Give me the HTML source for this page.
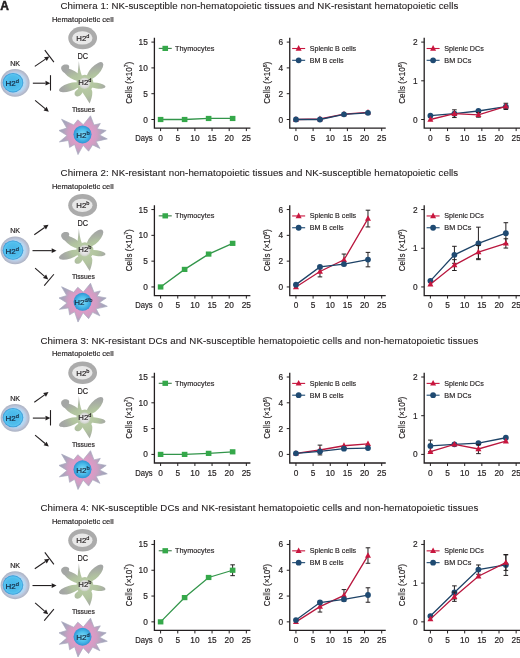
<!DOCTYPE html>
<html><head><meta charset="utf-8"><style>
html,body{margin:0;padding:0;background:#fff;}
svg{display:block;font-family:"Liberation Sans", sans-serif;will-change:transform;}
</style></head><body>
<svg width="520" height="658" viewBox="0 0 520 658">
<defs>
<filter id="blur1" x="-20%" y="-20%" width="140%" height="140%"><feGaussianBlur stdDeviation="0.55"/></filter>
<radialGradient id="nkblue" cx="0.5" cy="0.5" r="0.5">
 <stop offset="0" stop-color="#45b4e8"/>
 <stop offset="0.7" stop-color="#4fbdec"/>
 <stop offset="0.85" stop-color="#5ac4f0"/>
 <stop offset="1" stop-color="#2f90d2"/>
</radialGradient>
<radialGradient id="nkring" cx="0.5" cy="0.5" r="0.5">
 <stop offset="0.68" stop-color="#b4d8f2"/>
 <stop offset="0.82" stop-color="#bcc6dc"/>
 <stop offset="1" stop-color="#acb2c2"/>
</radialGradient>
<radialGradient id="hemat" cx="0.5" cy="0.5" r="0.5">
 <stop offset="0" stop-color="#f4f4f4"/>
 <stop offset="0.45" stop-color="#e8e8e8"/>
 <stop offset="0.7" stop-color="#bdbdbd"/>
 <stop offset="1" stop-color="#a9a9a9"/>
</radialGradient>
<radialGradient id="dcg" gradientUnits="userSpaceOnUse" cx="84.9" cy="83.3" r="23">
 <stop offset="0" stop-color="#bccfa8"/>
 <stop offset="0.55" stop-color="#b1c39f"/>
 <stop offset="0.8" stop-color="#a9b0a3"/>
 <stop offset="1" stop-color="#a4a6a5"/>
</radialGradient>
<radialGradient id="dcc" cx="0.5" cy="0.5" r="0.5">
 <stop offset="0" stop-color="#f2f2f2"/>
 <stop offset="0.7" stop-color="#dedede"/>
 <stop offset="1" stop-color="#c8cfbf"/>
</radialGradient>
<radialGradient id="star" gradientUnits="userSpaceOnUse" cx="82.5" cy="134.4" r="25">
 <stop offset="0.4" stop-color="#dd9bc7"/>
 <stop offset="0.58" stop-color="#cf9ec3"/>
 <stop offset="0.78" stop-color="#aca5bd"/>
 <stop offset="1" stop-color="#9aa1b6"/>
</radialGradient>
<radialGradient id="tblue" cx="0.5" cy="0.5" r="0.5">
 <stop offset="0" stop-color="#80dcf8"/>
 <stop offset="0.6" stop-color="#4abbea"/>
 <stop offset="1" stop-color="#2f94d4"/>
</radialGradient>
</defs>
<text x="0.2" y="10.1" font-size="12" font-weight="bold" fill="#231f20" stroke="#231f20" stroke-width="0.5">A</text>

<text x="259.4" y="8.90" font-size="9.7" text-anchor="middle" fill="#231f20" stroke="#231f20" stroke-width="0.12" textLength="398.0" lengthAdjust="spacing">Chimera 1: NK-susceptible non-hematopoietic tissues and NK-resistant hematopoietic cells</text>
<g>
<text x="15.10" y="65.70" font-size="7.1" text-anchor="middle" fill="#231f20" stroke="#231f20" stroke-width="0.18" >NK</text>
<ellipse cx="15.1" cy="82.90" rx="14.5" ry="13.9" fill="url(#nkring)"/>
<ellipse cx="13.0" cy="82.70" rx="10.3" ry="9.7" fill="url(#nkblue)"/>
<text x="5.60" y="86.20" font-size="8.0" fill="#16283f" stroke="#16283f" stroke-width="0.18" text-anchor="start">H2<tspan dy="-3" font-size="5.76">d</tspan></text>
<text x="51.90" y="21.50" font-size="8.0" text-anchor="start" fill="#231f20" stroke="#231f20" stroke-width="0.18" textLength="61.8" lengthAdjust="spacingAndGlyphs">Hematopoietic cell</text>
<ellipse cx="82.65" cy="37.90" rx="14.4" ry="11.3" fill="#ababab"/>
<ellipse cx="82.3" cy="37.90" rx="10.2" ry="6.7" fill="#e8e8e8" filter="url(#blur1)"/>
<text x="76.30" y="40.90" font-size="7.8" fill="#231f20" stroke="#231f20" stroke-width="0.18" text-anchor="start">H2<tspan dy="-3" font-size="5.62">d</tspan></text>
<text x="77.50" y="58.90" font-size="8.6" text-anchor="start" fill="#231f20" stroke="#231f20" stroke-width="0.18" textLength="10.6" lengthAdjust="spacingAndGlyphs">DC</text>
<g transform="translate(0,0.00)" fill="url(#dcg)"><ellipse cx="95.0" cy="70.9" rx="11.2" ry="4.6" transform="rotate(-47 95.0 70.9)"/><ellipse cx="96.8" cy="85.6" rx="8.8" ry="2.9" transform="rotate(8 96.8 85.6)"/><path d="M83,85 C88,86 92,88 92.3,92 C92.5,96 91,100 89.7,103.6 C87.5,100 84.5,95 81.5,91 Z"/><ellipse cx="69.5" cy="87.3" rx="11" ry="3.9" transform="rotate(-17 69.5 87.3)"/><ellipse cx="72.8" cy="74.8" rx="10.5" ry="4.0" transform="rotate(31 72.8 74.8)"/><path d="M61.2,69 C60.7,65.5 63.8,64 67,64.6 C69.2,65 69.8,67 68.8,68.6 C70.3,69.5 70.8,71.2 69.3,72.8 C66,73.8 62.2,72.8 61.2,69 Z"/><path d="M78.9,61.0 C79.3,66 80,71 82,76 L77.2,77.5 C77.8,72 78.5,66 78.9,61.0 Z"/><path d="M80.5,87 C78,89.5 75,90.5 74.6,93.2 C74.3,96 77,97 79.3,96 C81.5,95 82.5,92.5 84,90 Z"/><circle cx="84.9" cy="83.3" r="8.6"/></g>
<circle cx="84.6" cy="83.20" r="5.8" fill="url(#dcc)" filter="url(#blur1)"/>
<text x="78.30" y="84.80" font-size="7.8" fill="#231f20" stroke="#231f20" stroke-width="0.18" text-anchor="start">H2<tspan dy="-3" font-size="5.62">d</tspan></text>
<text x="71.90" y="111.90" font-size="7.1" text-anchor="start" fill="#231f20" stroke="#231f20" stroke-width="0.18" textLength="22.9" lengthAdjust="spacingAndGlyphs">Tissues</text>
<path transform="translate(0,0.00)" d="M90.50,115.80 L94.00,125.00 L100.30,123.50 L97.10,128.80 L106.20,130.50 L99.60,135.00 L107.30,138.90 L96.10,141.40 L99.90,148.40 L92.60,144.90 L88.60,151.20 L83.10,145.30 L78.00,154.60 L74.60,144.40 L69.60,147.40 L68.50,140.50 L59.40,141.90 L67.00,135.50 L59.00,130.50 L66.75,128.10 L61.60,119.30 L73.70,124.90 L77.80,119.80 L83.30,124.70 Z" fill="url(#star)" stroke="#a9a9bf" stroke-width="0.7" stroke-linejoin="round"/>
<circle cx="82.5" cy="134.40" r="9.0" fill="url(#tblue)"/>
<text x="76.20" y="137.80" font-size="8.0" fill="#16283f" stroke="#16283f" stroke-width="0.18" text-anchor="start">H2<tspan dy="-3" font-size="5.76">b</tspan></text>
<line x1="34.80" y1="66.40" x2="45.44" y2="59.11" stroke="#231f20" stroke-width="1.1"/>
<polygon points="49.40,56.40 46.80,61.09 44.08,57.13" fill="#231f20"/>
<line x1="44.80" y1="50.10" x2="53.90" y2="62.10" stroke="#231f20" stroke-width="1.1"/>
<line x1="32.85" y1="83.20" x2="45.50" y2="83.20" stroke="#231f20" stroke-width="1.1"/>
<polygon points="50.30,83.20 45.50,85.60 45.50,80.80" fill="#231f20"/>
<line x1="50.50" y1="75.20" x2="50.50" y2="90.60" stroke="#231f20" stroke-width="1.1"/>
<line x1="35.10" y1="100.30" x2="45.11" y2="108.63" stroke="#231f20" stroke-width="1.1"/>
<polygon points="48.80,111.70 43.58,110.47 46.65,106.78" fill="#231f20"/>
</g>
<path d="M154.40,37.75 V128.10 H250.40" fill="none" stroke="#231f20" stroke-width="1.3"/>
<line x1="151.40" y1="119.50" x2="154.40" y2="119.50" stroke="#231f20" stroke-width="1"/>
<text x="147.80" y="122.50" font-size="8.3" text-anchor="end" fill="#231f20" stroke="#231f20" stroke-width="0.18" >0</text>
<line x1="151.40" y1="93.70" x2="154.40" y2="93.70" stroke="#231f20" stroke-width="1"/>
<text x="147.80" y="96.70" font-size="8.3" text-anchor="end" fill="#231f20" stroke="#231f20" stroke-width="0.18" >5</text>
<line x1="151.40" y1="67.90" x2="154.40" y2="67.90" stroke="#231f20" stroke-width="1"/>
<text x="147.80" y="70.90" font-size="8.3" text-anchor="end" fill="#231f20" stroke="#231f20" stroke-width="0.18" >10</text>
<line x1="151.40" y1="42.10" x2="154.40" y2="42.10" stroke="#231f20" stroke-width="1"/>
<text x="147.80" y="45.10" font-size="8.3" text-anchor="end" fill="#231f20" stroke="#231f20" stroke-width="0.18" >15</text>
<line x1="160.60" y1="128.10" x2="160.60" y2="131.10" stroke="#231f20" stroke-width="1"/>
<text x="160.60" y="140.90" font-size="8.3" text-anchor="middle" fill="#231f20" stroke="#231f20" stroke-width="0.18" >0</text>
<line x1="177.75" y1="128.10" x2="177.75" y2="131.10" stroke="#231f20" stroke-width="1"/>
<text x="177.75" y="140.90" font-size="8.3" text-anchor="middle" fill="#231f20" stroke="#231f20" stroke-width="0.18" >5</text>
<line x1="194.90" y1="128.10" x2="194.90" y2="131.10" stroke="#231f20" stroke-width="1"/>
<text x="194.90" y="140.90" font-size="8.3" text-anchor="middle" fill="#231f20" stroke="#231f20" stroke-width="0.18" >10</text>
<line x1="212.05" y1="128.10" x2="212.05" y2="131.10" stroke="#231f20" stroke-width="1"/>
<text x="212.05" y="140.90" font-size="8.3" text-anchor="middle" fill="#231f20" stroke="#231f20" stroke-width="0.18" >15</text>
<line x1="229.20" y1="128.10" x2="229.20" y2="131.10" stroke="#231f20" stroke-width="1"/>
<text x="229.20" y="140.90" font-size="8.3" text-anchor="middle" fill="#231f20" stroke="#231f20" stroke-width="0.18" >20</text>
<line x1="246.35" y1="128.10" x2="246.35" y2="131.10" stroke="#231f20" stroke-width="1"/>
<text x="246.35" y="140.90" font-size="8.3" text-anchor="middle" fill="#231f20" stroke="#231f20" stroke-width="0.18" >25</text>
<text x="135.20" y="140.90" font-size="8.6" text-anchor="start" fill="#231f20" stroke="#231f20" stroke-width="0.18" textLength="17.4" lengthAdjust="spacingAndGlyphs">Days</text>
<text transform="translate(131.60,103.80) rotate(-90)" font-size="9.4" fill="#231f20" stroke="#231f20" stroke-width="0.18" textLength="42" lengthAdjust="spacingAndGlyphs">Cells (×10<tspan dy="-3.2" font-size="6">7</tspan><tspan dy="3.2">)</tspan></text>
<polyline points="160.60,119.50 184.61,119.50 208.62,118.47 232.63,118.47" fill="none" stroke="#32954a" stroke-width="1.3"/>
<rect x="157.80" y="116.90" width="5.6" height="5.2" fill="#35a84a"/>
<rect x="181.81" y="116.90" width="5.6" height="5.2" fill="#35a84a"/>
<rect x="205.82" y="115.87" width="5.6" height="5.2" fill="#35a84a"/>
<rect x="229.83" y="115.87" width="5.6" height="5.2" fill="#35a84a"/>
<line x1="158.75" y1="48.40" x2="171.75" y2="48.40" stroke="#3c7a48" stroke-width="1.1"/>
<rect x="162.45" y="45.80" width="5.6" height="5.2" fill="#35a84a"/>
<text x="175.10" y="50.80" font-size="8.0" text-anchor="start" fill="#231f20" stroke="#231f20" stroke-width="0.18" textLength="39.3" lengthAdjust="spacingAndGlyphs">Thymocytes</text>
<path d="M289.75,37.75 V128.10 H385.75" fill="none" stroke="#231f20" stroke-width="1.3"/>
<line x1="286.75" y1="119.50" x2="289.75" y2="119.50" stroke="#231f20" stroke-width="1"/>
<text x="283.15" y="122.50" font-size="8.3" text-anchor="end" fill="#231f20" stroke="#231f20" stroke-width="0.18" >0</text>
<line x1="286.75" y1="93.70" x2="289.75" y2="93.70" stroke="#231f20" stroke-width="1"/>
<text x="283.15" y="96.70" font-size="8.3" text-anchor="end" fill="#231f20" stroke="#231f20" stroke-width="0.18" >2</text>
<line x1="286.75" y1="67.90" x2="289.75" y2="67.90" stroke="#231f20" stroke-width="1"/>
<text x="283.15" y="70.90" font-size="8.3" text-anchor="end" fill="#231f20" stroke="#231f20" stroke-width="0.18" >4</text>
<line x1="286.75" y1="42.10" x2="289.75" y2="42.10" stroke="#231f20" stroke-width="1"/>
<text x="283.15" y="45.10" font-size="8.3" text-anchor="end" fill="#231f20" stroke="#231f20" stroke-width="0.18" >6</text>
<line x1="295.95" y1="128.10" x2="295.95" y2="131.10" stroke="#231f20" stroke-width="1"/>
<text x="295.95" y="140.90" font-size="8.3" text-anchor="middle" fill="#231f20" stroke="#231f20" stroke-width="0.18" >0</text>
<line x1="313.10" y1="128.10" x2="313.10" y2="131.10" stroke="#231f20" stroke-width="1"/>
<text x="313.10" y="140.90" font-size="8.3" text-anchor="middle" fill="#231f20" stroke="#231f20" stroke-width="0.18" >5</text>
<line x1="330.25" y1="128.10" x2="330.25" y2="131.10" stroke="#231f20" stroke-width="1"/>
<text x="330.25" y="140.90" font-size="8.3" text-anchor="middle" fill="#231f20" stroke="#231f20" stroke-width="0.18" >10</text>
<line x1="347.40" y1="128.10" x2="347.40" y2="131.10" stroke="#231f20" stroke-width="1"/>
<text x="347.40" y="140.90" font-size="8.3" text-anchor="middle" fill="#231f20" stroke="#231f20" stroke-width="0.18" >15</text>
<line x1="364.55" y1="128.10" x2="364.55" y2="131.10" stroke="#231f20" stroke-width="1"/>
<text x="364.55" y="140.90" font-size="8.3" text-anchor="middle" fill="#231f20" stroke="#231f20" stroke-width="0.18" >20</text>
<line x1="381.70" y1="128.10" x2="381.70" y2="131.10" stroke="#231f20" stroke-width="1"/>
<text x="381.70" y="140.90" font-size="8.3" text-anchor="middle" fill="#231f20" stroke="#231f20" stroke-width="0.18" >25</text>
<text transform="translate(270.10,103.80) rotate(-90)" font-size="9.4" fill="#231f20" stroke="#231f20" stroke-width="0.18" textLength="42" lengthAdjust="spacingAndGlyphs">Cells (×10<tspan dy="-3.2" font-size="6">6</tspan><tspan dy="3.2">)</tspan></text>
<polyline points="295.95,119.50 319.96,118.98 343.97,114.08 367.98,112.41" fill="none" stroke="#b9173e" stroke-width="1.3"/>
<polygon points="295.95,116.10 298.95,121.70 292.95,121.70" fill="#c8163e"/>
<polygon points="319.96,115.58 322.96,121.18 316.96,121.18" fill="#c8163e"/>
<polygon points="343.97,110.68 346.97,116.28 340.97,116.28" fill="#c8163e"/>
<polygon points="367.98,109.00 370.98,114.61 364.98,114.61" fill="#c8163e"/>
<polyline points="295.95,119.50 319.96,119.50 343.97,114.34 367.98,112.79" fill="none" stroke="#1d4266" stroke-width="1.3"/>
<circle cx="295.95" cy="119.50" r="2.9" fill="#1f4a72"/>
<circle cx="319.96" cy="119.50" r="2.9" fill="#1f4a72"/>
<circle cx="343.97" cy="114.34" r="2.9" fill="#1f4a72"/>
<circle cx="367.98" cy="112.79" r="2.9" fill="#1f4a72"/>
<line x1="292.15" y1="48.50" x2="305.15" y2="48.50" stroke="#c8163e" stroke-width="1.1"/>
<polygon points="298.65,45.10 301.65,50.70 295.65,50.70" fill="#c8163e"/>
<line x1="292.15" y1="60.30" x2="305.15" y2="60.30" stroke="#1f4a72" stroke-width="1.1"/>
<circle cx="298.65" cy="60.30" r="2.9" fill="#1f4a72"/>
<text x="309.85" y="50.90" font-size="8.0" text-anchor="start" fill="#231f20" stroke="#231f20" stroke-width="0.18" textLength="46.2" lengthAdjust="spacingAndGlyphs">Splenic B cells</text>
<text x="309.85" y="62.80" font-size="8.0" text-anchor="start" fill="#231f20" stroke="#231f20" stroke-width="0.18" textLength="33.7" lengthAdjust="spacingAndGlyphs">BM B cells</text>
<path d="M424.20,37.75 V128.10 H520.20" fill="none" stroke="#231f20" stroke-width="1.3"/>
<line x1="421.20" y1="119.50" x2="424.20" y2="119.50" stroke="#231f20" stroke-width="1"/>
<text x="417.60" y="122.50" font-size="8.3" text-anchor="end" fill="#231f20" stroke="#231f20" stroke-width="0.18" >0</text>
<line x1="421.20" y1="80.80" x2="424.20" y2="80.80" stroke="#231f20" stroke-width="1"/>
<text x="417.60" y="83.80" font-size="8.3" text-anchor="end" fill="#231f20" stroke="#231f20" stroke-width="0.18" >1</text>
<line x1="421.20" y1="42.10" x2="424.20" y2="42.10" stroke="#231f20" stroke-width="1"/>
<text x="417.60" y="45.10" font-size="8.3" text-anchor="end" fill="#231f20" stroke="#231f20" stroke-width="0.18" >2</text>
<line x1="430.40" y1="128.10" x2="430.40" y2="131.10" stroke="#231f20" stroke-width="1"/>
<text x="430.40" y="140.90" font-size="8.3" text-anchor="middle" fill="#231f20" stroke="#231f20" stroke-width="0.18" >0</text>
<line x1="447.55" y1="128.10" x2="447.55" y2="131.10" stroke="#231f20" stroke-width="1"/>
<text x="447.55" y="140.90" font-size="8.3" text-anchor="middle" fill="#231f20" stroke="#231f20" stroke-width="0.18" >5</text>
<line x1="464.70" y1="128.10" x2="464.70" y2="131.10" stroke="#231f20" stroke-width="1"/>
<text x="464.70" y="140.90" font-size="8.3" text-anchor="middle" fill="#231f20" stroke="#231f20" stroke-width="0.18" >10</text>
<line x1="481.85" y1="128.10" x2="481.85" y2="131.10" stroke="#231f20" stroke-width="1"/>
<text x="481.85" y="140.90" font-size="8.3" text-anchor="middle" fill="#231f20" stroke="#231f20" stroke-width="0.18" >15</text>
<line x1="499.00" y1="128.10" x2="499.00" y2="131.10" stroke="#231f20" stroke-width="1"/>
<text x="499.00" y="140.90" font-size="8.3" text-anchor="middle" fill="#231f20" stroke="#231f20" stroke-width="0.18" >20</text>
<line x1="516.15" y1="128.10" x2="516.15" y2="131.10" stroke="#231f20" stroke-width="1"/>
<text x="516.15" y="140.90" font-size="8.3" text-anchor="middle" fill="#231f20" stroke="#231f20" stroke-width="0.18" >25</text>
<text transform="translate(405.10,103.80) rotate(-90)" font-size="9.4" fill="#231f20" stroke="#231f20" stroke-width="0.18" textLength="42" lengthAdjust="spacingAndGlyphs">Cells (×10<tspan dy="-3.2" font-size="6">6</tspan><tspan dy="3.2">)</tspan></text>
<polyline points="430.40,115.63 454.41,113.69 478.42,110.99 505.86,106.73" fill="none" stroke="#1d4266" stroke-width="1.3"/>
<circle cx="430.40" cy="115.63" r="2.9" fill="#1f4a72"/>
<circle cx="454.41" cy="113.69" r="2.9" fill="#1f4a72"/>
<circle cx="478.42" cy="110.99" r="2.9" fill="#1f4a72"/>
<circle cx="505.86" cy="106.73" r="2.9" fill="#1f4a72"/>
<polyline points="430.40,119.50 454.41,113.69 478.42,114.86 505.86,106.34" fill="none" stroke="#b9173e" stroke-width="1.3"/>
<path d="M454.41,109.82 V117.56 M452.11,109.82 H456.71 M452.11,117.56 H456.71" stroke="#231f20" stroke-width="1" fill="none"/>
<path d="M478.42,112.53 V117.18 M476.12,112.53 H480.72 M476.12,117.18 H480.72" stroke="#231f20" stroke-width="1" fill="none"/>
<path d="M505.86,103.25 V109.44 M503.56,103.25 H508.16 M503.56,109.44 H508.16" stroke="#231f20" stroke-width="1" fill="none"/>
<polygon points="430.40,116.10 433.40,121.70 427.40,121.70" fill="#c8163e"/>
<polygon points="454.41,110.29 457.41,115.89 451.41,115.89" fill="#c8163e"/>
<polygon points="478.42,111.46 481.42,117.06 475.42,117.06" fill="#c8163e"/>
<polygon points="505.86,102.94 508.86,108.54 502.86,108.54" fill="#c8163e"/>
<line x1="426.60" y1="48.50" x2="439.60" y2="48.50" stroke="#c8163e" stroke-width="1.1"/>
<polygon points="433.10,45.10 436.10,50.70 430.10,50.70" fill="#c8163e"/>
<line x1="426.60" y1="60.30" x2="439.60" y2="60.30" stroke="#1f4a72" stroke-width="1.1"/>
<circle cx="433.10" cy="60.30" r="2.9" fill="#1f4a72"/>
<text x="444.30" y="50.90" font-size="8.0" text-anchor="start" fill="#231f20" stroke="#231f20" stroke-width="0.18" textLength="39.5" lengthAdjust="spacingAndGlyphs">Splenic DCs</text>
<text x="444.30" y="62.80" font-size="8.0" text-anchor="start" fill="#231f20" stroke="#231f20" stroke-width="0.18" textLength="27" lengthAdjust="spacingAndGlyphs">BM DCs</text>
<text x="259.4" y="176.35" font-size="9.7" text-anchor="middle" fill="#231f20" stroke="#231f20" stroke-width="0.12" textLength="397.6" lengthAdjust="spacing">Chimera 2: NK-resistant non-hematopoietic tissues and NK-susceptible hematopoietic cells</text>
<g>
<text x="15.10" y="233.15" font-size="7.1" text-anchor="middle" fill="#231f20" stroke="#231f20" stroke-width="0.18" >NK</text>
<ellipse cx="15.1" cy="250.35" rx="14.5" ry="13.9" fill="url(#nkring)"/>
<ellipse cx="13.0" cy="250.15" rx="10.3" ry="9.7" fill="url(#nkblue)"/>
<text x="5.60" y="253.65" font-size="8.0" fill="#16283f" stroke="#16283f" stroke-width="0.18" text-anchor="start">H2<tspan dy="-3" font-size="5.76">d</tspan></text>
<text x="51.90" y="188.95" font-size="8.0" text-anchor="start" fill="#231f20" stroke="#231f20" stroke-width="0.18" textLength="61.8" lengthAdjust="spacingAndGlyphs">Hematopoietic cell</text>
<ellipse cx="82.65" cy="205.35" rx="14.4" ry="11.3" fill="#ababab"/>
<ellipse cx="82.3" cy="205.35" rx="10.2" ry="6.7" fill="#e8e8e8" filter="url(#blur1)"/>
<text x="76.30" y="208.35" font-size="7.8" fill="#231f20" stroke="#231f20" stroke-width="0.18" text-anchor="start">H2<tspan dy="-3" font-size="5.62">b</tspan></text>
<text x="77.50" y="226.35" font-size="8.6" text-anchor="start" fill="#231f20" stroke="#231f20" stroke-width="0.18" textLength="10.6" lengthAdjust="spacingAndGlyphs">DC</text>
<g transform="translate(0,167.45)" fill="url(#dcg)"><ellipse cx="95.0" cy="70.9" rx="11.2" ry="4.6" transform="rotate(-47 95.0 70.9)"/><ellipse cx="96.8" cy="85.6" rx="8.8" ry="2.9" transform="rotate(8 96.8 85.6)"/><path d="M83,85 C88,86 92,88 92.3,92 C92.5,96 91,100 89.7,103.6 C87.5,100 84.5,95 81.5,91 Z"/><ellipse cx="69.5" cy="87.3" rx="11" ry="3.9" transform="rotate(-17 69.5 87.3)"/><ellipse cx="72.8" cy="74.8" rx="10.5" ry="4.0" transform="rotate(31 72.8 74.8)"/><path d="M61.2,69 C60.7,65.5 63.8,64 67,64.6 C69.2,65 69.8,67 68.8,68.6 C70.3,69.5 70.8,71.2 69.3,72.8 C66,73.8 62.2,72.8 61.2,69 Z"/><path d="M78.9,61.0 C79.3,66 80,71 82,76 L77.2,77.5 C77.8,72 78.5,66 78.9,61.0 Z"/><path d="M80.5,87 C78,89.5 75,90.5 74.6,93.2 C74.3,96 77,97 79.3,96 C81.5,95 82.5,92.5 84,90 Z"/><circle cx="84.9" cy="83.3" r="8.6"/></g>
<circle cx="84.6" cy="250.65" r="5.8" fill="url(#dcc)" filter="url(#blur1)"/>
<text x="78.30" y="252.25" font-size="7.8" fill="#231f20" stroke="#231f20" stroke-width="0.18" text-anchor="start">H2<tspan dy="-3" font-size="5.62">b</tspan></text>
<text x="71.90" y="279.35" font-size="7.1" text-anchor="start" fill="#231f20" stroke="#231f20" stroke-width="0.18" textLength="22.9" lengthAdjust="spacingAndGlyphs">Tissues</text>
<path transform="translate(0,167.45)" d="M90.50,115.80 L94.00,125.00 L100.30,123.50 L97.10,128.80 L106.20,130.50 L99.60,135.00 L107.30,138.90 L96.10,141.40 L99.90,148.40 L92.60,144.90 L88.60,151.20 L83.10,145.30 L78.00,154.60 L74.60,144.40 L69.60,147.40 L68.50,140.50 L59.40,141.90 L67.00,135.50 L59.00,130.50 L66.75,128.10 L61.60,119.30 L73.70,124.90 L77.80,119.80 L83.30,124.70 Z" fill="url(#star)" stroke="#a9a9bf" stroke-width="0.7" stroke-linejoin="round"/>
<circle cx="82.5" cy="301.85" r="9.0" fill="url(#tblue)"/>
<text x="74.20" y="305.25" font-size="8.0" fill="#16283f" stroke="#16283f" stroke-width="0.18" text-anchor="start">H2<tspan dy="-3" font-size="5.76">d/b</tspan></text>
<line x1="34.30" y1="234.75" x2="44.59" y2="227.43" stroke="#231f20" stroke-width="1.1"/>
<polygon points="48.50,224.65 45.98,229.39 43.20,225.48" fill="#231f20"/>
<line x1="32.50" y1="250.65" x2="51.70" y2="250.65" stroke="#231f20" stroke-width="1.1"/>
<polygon points="56.50,250.65 51.70,253.05 51.70,248.25" fill="#231f20"/>
<line x1="35.10" y1="268.05" x2="44.58" y2="276.30" stroke="#231f20" stroke-width="1.1"/>
<polygon points="48.20,279.45 43.00,278.11 46.15,274.49" fill="#231f20"/>
<line x1="44.25" y1="285.65" x2="53.90" y2="274.25" stroke="#231f20" stroke-width="1.1"/>
</g>
<path d="M154.40,205.20 V295.55 H250.40" fill="none" stroke="#231f20" stroke-width="1.3"/>
<line x1="151.40" y1="286.95" x2="154.40" y2="286.95" stroke="#231f20" stroke-width="1"/>
<text x="147.80" y="289.95" font-size="8.3" text-anchor="end" fill="#231f20" stroke="#231f20" stroke-width="0.18" >0</text>
<line x1="151.40" y1="261.15" x2="154.40" y2="261.15" stroke="#231f20" stroke-width="1"/>
<text x="147.80" y="264.15" font-size="8.3" text-anchor="end" fill="#231f20" stroke="#231f20" stroke-width="0.18" >5</text>
<line x1="151.40" y1="235.35" x2="154.40" y2="235.35" stroke="#231f20" stroke-width="1"/>
<text x="147.80" y="238.35" font-size="8.3" text-anchor="end" fill="#231f20" stroke="#231f20" stroke-width="0.18" >10</text>
<line x1="151.40" y1="209.55" x2="154.40" y2="209.55" stroke="#231f20" stroke-width="1"/>
<text x="147.80" y="212.55" font-size="8.3" text-anchor="end" fill="#231f20" stroke="#231f20" stroke-width="0.18" >15</text>
<line x1="160.60" y1="295.55" x2="160.60" y2="298.55" stroke="#231f20" stroke-width="1"/>
<text x="160.60" y="308.35" font-size="8.3" text-anchor="middle" fill="#231f20" stroke="#231f20" stroke-width="0.18" >0</text>
<line x1="177.75" y1="295.55" x2="177.75" y2="298.55" stroke="#231f20" stroke-width="1"/>
<text x="177.75" y="308.35" font-size="8.3" text-anchor="middle" fill="#231f20" stroke="#231f20" stroke-width="0.18" >5</text>
<line x1="194.90" y1="295.55" x2="194.90" y2="298.55" stroke="#231f20" stroke-width="1"/>
<text x="194.90" y="308.35" font-size="8.3" text-anchor="middle" fill="#231f20" stroke="#231f20" stroke-width="0.18" >10</text>
<line x1="212.05" y1="295.55" x2="212.05" y2="298.55" stroke="#231f20" stroke-width="1"/>
<text x="212.05" y="308.35" font-size="8.3" text-anchor="middle" fill="#231f20" stroke="#231f20" stroke-width="0.18" >15</text>
<line x1="229.20" y1="295.55" x2="229.20" y2="298.55" stroke="#231f20" stroke-width="1"/>
<text x="229.20" y="308.35" font-size="8.3" text-anchor="middle" fill="#231f20" stroke="#231f20" stroke-width="0.18" >20</text>
<line x1="246.35" y1="295.55" x2="246.35" y2="298.55" stroke="#231f20" stroke-width="1"/>
<text x="246.35" y="308.35" font-size="8.3" text-anchor="middle" fill="#231f20" stroke="#231f20" stroke-width="0.18" >25</text>
<text x="135.20" y="308.35" font-size="8.6" text-anchor="start" fill="#231f20" stroke="#231f20" stroke-width="0.18" textLength="17.4" lengthAdjust="spacingAndGlyphs">Days</text>
<text transform="translate(131.60,271.25) rotate(-90)" font-size="9.4" fill="#231f20" stroke="#231f20" stroke-width="0.18" textLength="42" lengthAdjust="spacingAndGlyphs">Cells (×10<tspan dy="-3.2" font-size="6">7</tspan><tspan dy="3.2">)</tspan></text>
<polyline points="160.60,286.95 184.61,269.41 208.62,254.08 232.63,243.35" fill="none" stroke="#32954a" stroke-width="1.3"/>
<rect x="157.80" y="284.35" width="5.6" height="5.2" fill="#35a84a"/>
<rect x="181.81" y="266.81" width="5.6" height="5.2" fill="#35a84a"/>
<rect x="205.82" y="251.48" width="5.6" height="5.2" fill="#35a84a"/>
<rect x="229.83" y="240.75" width="5.6" height="5.2" fill="#35a84a"/>
<line x1="158.75" y1="215.85" x2="171.75" y2="215.85" stroke="#3c7a48" stroke-width="1.1"/>
<rect x="162.45" y="213.25" width="5.6" height="5.2" fill="#35a84a"/>
<text x="175.10" y="218.25" font-size="8.0" text-anchor="start" fill="#231f20" stroke="#231f20" stroke-width="0.18" textLength="39.3" lengthAdjust="spacingAndGlyphs">Thymocytes</text>
<path d="M289.75,205.20 V295.55 H385.75" fill="none" stroke="#231f20" stroke-width="1.3"/>
<line x1="286.75" y1="286.95" x2="289.75" y2="286.95" stroke="#231f20" stroke-width="1"/>
<text x="283.15" y="289.95" font-size="8.3" text-anchor="end" fill="#231f20" stroke="#231f20" stroke-width="0.18" >0</text>
<line x1="286.75" y1="261.15" x2="289.75" y2="261.15" stroke="#231f20" stroke-width="1"/>
<text x="283.15" y="264.15" font-size="8.3" text-anchor="end" fill="#231f20" stroke="#231f20" stroke-width="0.18" >2</text>
<line x1="286.75" y1="235.35" x2="289.75" y2="235.35" stroke="#231f20" stroke-width="1"/>
<text x="283.15" y="238.35" font-size="8.3" text-anchor="end" fill="#231f20" stroke="#231f20" stroke-width="0.18" >4</text>
<line x1="286.75" y1="209.55" x2="289.75" y2="209.55" stroke="#231f20" stroke-width="1"/>
<text x="283.15" y="212.55" font-size="8.3" text-anchor="end" fill="#231f20" stroke="#231f20" stroke-width="0.18" >6</text>
<line x1="295.95" y1="295.55" x2="295.95" y2="298.55" stroke="#231f20" stroke-width="1"/>
<text x="295.95" y="308.35" font-size="8.3" text-anchor="middle" fill="#231f20" stroke="#231f20" stroke-width="0.18" >0</text>
<line x1="313.10" y1="295.55" x2="313.10" y2="298.55" stroke="#231f20" stroke-width="1"/>
<text x="313.10" y="308.35" font-size="8.3" text-anchor="middle" fill="#231f20" stroke="#231f20" stroke-width="0.18" >5</text>
<line x1="330.25" y1="295.55" x2="330.25" y2="298.55" stroke="#231f20" stroke-width="1"/>
<text x="330.25" y="308.35" font-size="8.3" text-anchor="middle" fill="#231f20" stroke="#231f20" stroke-width="0.18" >10</text>
<line x1="347.40" y1="295.55" x2="347.40" y2="298.55" stroke="#231f20" stroke-width="1"/>
<text x="347.40" y="308.35" font-size="8.3" text-anchor="middle" fill="#231f20" stroke="#231f20" stroke-width="0.18" >15</text>
<line x1="364.55" y1="295.55" x2="364.55" y2="298.55" stroke="#231f20" stroke-width="1"/>
<text x="364.55" y="308.35" font-size="8.3" text-anchor="middle" fill="#231f20" stroke="#231f20" stroke-width="0.18" >20</text>
<line x1="381.70" y1="295.55" x2="381.70" y2="298.55" stroke="#231f20" stroke-width="1"/>
<text x="381.70" y="308.35" font-size="8.3" text-anchor="middle" fill="#231f20" stroke="#231f20" stroke-width="0.18" >25</text>
<text transform="translate(270.10,271.25) rotate(-90)" font-size="9.4" fill="#231f20" stroke="#231f20" stroke-width="0.18" textLength="42" lengthAdjust="spacingAndGlyphs">Cells (×10<tspan dy="-3.2" font-size="6">6</tspan><tspan dy="3.2">)</tspan></text>
<polyline points="295.95,286.95 319.96,271.47 343.97,259.86 367.98,218.58" fill="none" stroke="#b9173e" stroke-width="1.3"/>
<path d="M319.96,266.05 V276.89 M317.66,266.05 H322.26 M317.66,276.89 H322.26" stroke="#231f20" stroke-width="1" fill="none"/>
<path d="M343.97,254.06 V265.67 M341.67,254.06 H346.27 M341.67,265.67 H346.27" stroke="#231f20" stroke-width="1" fill="none"/>
<path d="M367.98,210.19 V226.96 M365.68,210.19 H370.28 M365.68,226.96 H370.28" stroke="#231f20" stroke-width="1" fill="none"/>
<polygon points="295.95,283.55 298.95,289.15 292.95,289.15" fill="#c8163e"/>
<polygon points="319.96,268.07 322.96,273.67 316.96,273.67" fill="#c8163e"/>
<polygon points="343.97,256.46 346.97,262.06 340.97,262.06" fill="#c8163e"/>
<polygon points="367.98,215.18 370.98,220.78 364.98,220.78" fill="#c8163e"/>
<polyline points="295.95,284.63 319.96,266.95 343.97,264.12 367.98,259.60" fill="none" stroke="#1d4266" stroke-width="1.3"/>
<path d="M367.98,252.38 V266.83 M365.68,252.38 H370.28 M365.68,266.83 H370.28" stroke="#231f20" stroke-width="1" fill="none"/>
<circle cx="295.95" cy="284.63" r="2.9" fill="#1f4a72"/>
<circle cx="319.96" cy="266.95" r="2.9" fill="#1f4a72"/>
<circle cx="343.97" cy="264.12" r="2.9" fill="#1f4a72"/>
<circle cx="367.98" cy="259.60" r="2.9" fill="#1f4a72"/>
<line x1="292.15" y1="215.95" x2="305.15" y2="215.95" stroke="#c8163e" stroke-width="1.1"/>
<polygon points="298.65,212.55 301.65,218.15 295.65,218.15" fill="#c8163e"/>
<line x1="292.15" y1="227.75" x2="305.15" y2="227.75" stroke="#1f4a72" stroke-width="1.1"/>
<circle cx="298.65" cy="227.75" r="2.9" fill="#1f4a72"/>
<text x="309.85" y="218.35" font-size="8.0" text-anchor="start" fill="#231f20" stroke="#231f20" stroke-width="0.18" textLength="46.2" lengthAdjust="spacingAndGlyphs">Splenic B cells</text>
<text x="309.85" y="230.25" font-size="8.0" text-anchor="start" fill="#231f20" stroke="#231f20" stroke-width="0.18" textLength="33.7" lengthAdjust="spacingAndGlyphs">BM B cells</text>
<path d="M424.20,205.20 V295.55 H520.20" fill="none" stroke="#231f20" stroke-width="1.3"/>
<line x1="421.20" y1="286.95" x2="424.20" y2="286.95" stroke="#231f20" stroke-width="1"/>
<text x="417.60" y="289.95" font-size="8.3" text-anchor="end" fill="#231f20" stroke="#231f20" stroke-width="0.18" >0</text>
<line x1="421.20" y1="248.25" x2="424.20" y2="248.25" stroke="#231f20" stroke-width="1"/>
<text x="417.60" y="251.25" font-size="8.3" text-anchor="end" fill="#231f20" stroke="#231f20" stroke-width="0.18" >1</text>
<line x1="421.20" y1="209.55" x2="424.20" y2="209.55" stroke="#231f20" stroke-width="1"/>
<text x="417.60" y="212.55" font-size="8.3" text-anchor="end" fill="#231f20" stroke="#231f20" stroke-width="0.18" >2</text>
<line x1="430.40" y1="295.55" x2="430.40" y2="298.55" stroke="#231f20" stroke-width="1"/>
<text x="430.40" y="308.35" font-size="8.3" text-anchor="middle" fill="#231f20" stroke="#231f20" stroke-width="0.18" >0</text>
<line x1="447.55" y1="295.55" x2="447.55" y2="298.55" stroke="#231f20" stroke-width="1"/>
<text x="447.55" y="308.35" font-size="8.3" text-anchor="middle" fill="#231f20" stroke="#231f20" stroke-width="0.18" >5</text>
<line x1="464.70" y1="295.55" x2="464.70" y2="298.55" stroke="#231f20" stroke-width="1"/>
<text x="464.70" y="308.35" font-size="8.3" text-anchor="middle" fill="#231f20" stroke="#231f20" stroke-width="0.18" >10</text>
<line x1="481.85" y1="295.55" x2="481.85" y2="298.55" stroke="#231f20" stroke-width="1"/>
<text x="481.85" y="308.35" font-size="8.3" text-anchor="middle" fill="#231f20" stroke="#231f20" stroke-width="0.18" >15</text>
<line x1="499.00" y1="295.55" x2="499.00" y2="298.55" stroke="#231f20" stroke-width="1"/>
<text x="499.00" y="308.35" font-size="8.3" text-anchor="middle" fill="#231f20" stroke="#231f20" stroke-width="0.18" >20</text>
<line x1="516.15" y1="295.55" x2="516.15" y2="298.55" stroke="#231f20" stroke-width="1"/>
<text x="516.15" y="308.35" font-size="8.3" text-anchor="middle" fill="#231f20" stroke="#231f20" stroke-width="0.18" >25</text>
<text transform="translate(405.10,271.25) rotate(-90)" font-size="9.4" fill="#231f20" stroke="#231f20" stroke-width="0.18" textLength="42" lengthAdjust="spacingAndGlyphs">Cells (×10<tspan dy="-3.2" font-size="6">6</tspan><tspan dy="3.2">)</tspan></text>
<polyline points="430.40,280.87 454.41,254.83 478.42,243.41 505.86,233.16" fill="none" stroke="#1d4266" stroke-width="1.3"/>
<path d="M454.41,246.31 V263.34 M452.11,246.31 H456.71 M452.11,263.34 H456.71" stroke="#231f20" stroke-width="1" fill="none"/>
<path d="M478.42,227.16 V259.67 M476.12,227.16 H480.72 M476.12,259.67 H480.72" stroke="#231f20" stroke-width="1" fill="none"/>
<path d="M505.86,222.71 V243.61 M503.56,222.71 H508.16 M503.56,243.61 H508.16" stroke="#231f20" stroke-width="1" fill="none"/>
<circle cx="430.40" cy="280.87" r="2.9" fill="#1f4a72"/>
<circle cx="454.41" cy="254.83" r="2.9" fill="#1f4a72"/>
<circle cx="478.42" cy="243.41" r="2.9" fill="#1f4a72"/>
<circle cx="505.86" cy="233.16" r="2.9" fill="#1f4a72"/>
<polyline points="430.40,284.24 454.41,265.08 478.42,252.12 505.86,243.41" fill="none" stroke="#b9173e" stroke-width="1.3"/>
<path d="M454.41,259.67 V270.50 M452.11,259.67 H456.71 M452.11,270.50 H456.71" stroke="#231f20" stroke-width="1" fill="none"/>
<path d="M478.42,245.54 V258.70 M476.12,245.54 H480.72 M476.12,258.70 H480.72" stroke="#231f20" stroke-width="1" fill="none"/>
<path d="M505.86,238.77 V248.06 M503.56,238.77 H508.16 M503.56,248.06 H508.16" stroke="#231f20" stroke-width="1" fill="none"/>
<polygon points="430.40,280.84 433.40,286.44 427.40,286.44" fill="#c8163e"/>
<polygon points="454.41,261.68 457.41,267.28 451.41,267.28" fill="#c8163e"/>
<polygon points="478.42,248.72 481.42,254.32 475.42,254.32" fill="#c8163e"/>
<polygon points="505.86,240.01 508.86,245.61 502.86,245.61" fill="#c8163e"/>
<line x1="426.60" y1="215.95" x2="439.60" y2="215.95" stroke="#c8163e" stroke-width="1.1"/>
<polygon points="433.10,212.55 436.10,218.15 430.10,218.15" fill="#c8163e"/>
<line x1="426.60" y1="227.75" x2="439.60" y2="227.75" stroke="#1f4a72" stroke-width="1.1"/>
<circle cx="433.10" cy="227.75" r="2.9" fill="#1f4a72"/>
<text x="444.30" y="218.35" font-size="8.0" text-anchor="start" fill="#231f20" stroke="#231f20" stroke-width="0.18" textLength="39.5" lengthAdjust="spacingAndGlyphs">Splenic DCs</text>
<text x="444.30" y="230.25" font-size="8.0" text-anchor="start" fill="#231f20" stroke="#231f20" stroke-width="0.18" textLength="27" lengthAdjust="spacingAndGlyphs">BM DCs</text>
<text x="259.4" y="343.80" font-size="9.7" text-anchor="middle" fill="#231f20" stroke="#231f20" stroke-width="0.12" textLength="437.7" lengthAdjust="spacing">Chimera 3: NK-resistant DCs and NK-susceptible hematopoietic cells and non-hematopoietic tissues</text>
<g>
<text x="15.10" y="400.60" font-size="7.1" text-anchor="middle" fill="#231f20" stroke="#231f20" stroke-width="0.18" >NK</text>
<ellipse cx="15.1" cy="417.80" rx="14.5" ry="13.9" fill="url(#nkring)"/>
<ellipse cx="13.0" cy="417.60" rx="10.3" ry="9.7" fill="url(#nkblue)"/>
<text x="5.60" y="421.10" font-size="8.0" fill="#16283f" stroke="#16283f" stroke-width="0.18" text-anchor="start">H2<tspan dy="-3" font-size="5.76">d</tspan></text>
<text x="51.90" y="356.40" font-size="8.0" text-anchor="start" fill="#231f20" stroke="#231f20" stroke-width="0.18" textLength="61.8" lengthAdjust="spacingAndGlyphs">Hematopoietic cell</text>
<ellipse cx="82.65" cy="372.80" rx="14.4" ry="11.3" fill="#ababab"/>
<ellipse cx="82.3" cy="372.80" rx="10.2" ry="6.7" fill="#e8e8e8" filter="url(#blur1)"/>
<text x="76.30" y="375.80" font-size="7.8" fill="#231f20" stroke="#231f20" stroke-width="0.18" text-anchor="start">H2<tspan dy="-3" font-size="5.62">b</tspan></text>
<text x="77.50" y="393.80" font-size="8.6" text-anchor="start" fill="#231f20" stroke="#231f20" stroke-width="0.18" textLength="10.6" lengthAdjust="spacingAndGlyphs">DC</text>
<g transform="translate(0,334.90)" fill="url(#dcg)"><ellipse cx="95.0" cy="70.9" rx="11.2" ry="4.6" transform="rotate(-47 95.0 70.9)"/><ellipse cx="96.8" cy="85.6" rx="8.8" ry="2.9" transform="rotate(8 96.8 85.6)"/><path d="M83,85 C88,86 92,88 92.3,92 C92.5,96 91,100 89.7,103.6 C87.5,100 84.5,95 81.5,91 Z"/><ellipse cx="69.5" cy="87.3" rx="11" ry="3.9" transform="rotate(-17 69.5 87.3)"/><ellipse cx="72.8" cy="74.8" rx="10.5" ry="4.0" transform="rotate(31 72.8 74.8)"/><path d="M61.2,69 C60.7,65.5 63.8,64 67,64.6 C69.2,65 69.8,67 68.8,68.6 C70.3,69.5 70.8,71.2 69.3,72.8 C66,73.8 62.2,72.8 61.2,69 Z"/><path d="M78.9,61.0 C79.3,66 80,71 82,76 L77.2,77.5 C77.8,72 78.5,66 78.9,61.0 Z"/><path d="M80.5,87 C78,89.5 75,90.5 74.6,93.2 C74.3,96 77,97 79.3,96 C81.5,95 82.5,92.5 84,90 Z"/><circle cx="84.9" cy="83.3" r="8.6"/></g>
<circle cx="84.6" cy="418.10" r="5.8" fill="url(#dcc)" filter="url(#blur1)"/>
<text x="78.30" y="419.70" font-size="7.8" fill="#231f20" stroke="#231f20" stroke-width="0.18" text-anchor="start">H2<tspan dy="-3" font-size="5.62">d</tspan></text>
<text x="71.90" y="446.80" font-size="7.1" text-anchor="start" fill="#231f20" stroke="#231f20" stroke-width="0.18" textLength="22.9" lengthAdjust="spacingAndGlyphs">Tissues</text>
<path transform="translate(0,334.90)" d="M90.50,115.80 L94.00,125.00 L100.30,123.50 L97.10,128.80 L106.20,130.50 L99.60,135.00 L107.30,138.90 L96.10,141.40 L99.90,148.40 L92.60,144.90 L88.60,151.20 L83.10,145.30 L78.00,154.60 L74.60,144.40 L69.60,147.40 L68.50,140.50 L59.40,141.90 L67.00,135.50 L59.00,130.50 L66.75,128.10 L61.60,119.30 L73.70,124.90 L77.80,119.80 L83.30,124.70 Z" fill="url(#star)" stroke="#a9a9bf" stroke-width="0.7" stroke-linejoin="round"/>
<circle cx="82.5" cy="469.30" r="9.0" fill="url(#tblue)"/>
<text x="76.20" y="472.70" font-size="8.0" fill="#16283f" stroke="#16283f" stroke-width="0.18" text-anchor="start">H2<tspan dy="-3" font-size="5.76">b</tspan></text>
<line x1="34.30" y1="402.20" x2="44.59" y2="394.88" stroke="#231f20" stroke-width="1.1"/>
<polygon points="48.50,392.10 45.98,396.84 43.20,392.93" fill="#231f20"/>
<line x1="32.85" y1="418.10" x2="45.50" y2="418.10" stroke="#231f20" stroke-width="1.1"/>
<polygon points="50.30,418.10 45.50,420.50 45.50,415.70" fill="#231f20"/>
<line x1="50.50" y1="410.10" x2="50.50" y2="425.50" stroke="#231f20" stroke-width="1.1"/>
<line x1="35.10" y1="435.20" x2="45.11" y2="443.53" stroke="#231f20" stroke-width="1.1"/>
<polygon points="48.80,446.60 43.58,445.37 46.65,441.68" fill="#231f20"/>
</g>
<path d="M154.40,372.65 V463.00 H250.40" fill="none" stroke="#231f20" stroke-width="1.3"/>
<line x1="151.40" y1="454.40" x2="154.40" y2="454.40" stroke="#231f20" stroke-width="1"/>
<text x="147.80" y="457.40" font-size="8.3" text-anchor="end" fill="#231f20" stroke="#231f20" stroke-width="0.18" >0</text>
<line x1="151.40" y1="428.60" x2="154.40" y2="428.60" stroke="#231f20" stroke-width="1"/>
<text x="147.80" y="431.60" font-size="8.3" text-anchor="end" fill="#231f20" stroke="#231f20" stroke-width="0.18" >5</text>
<line x1="151.40" y1="402.80" x2="154.40" y2="402.80" stroke="#231f20" stroke-width="1"/>
<text x="147.80" y="405.80" font-size="8.3" text-anchor="end" fill="#231f20" stroke="#231f20" stroke-width="0.18" >10</text>
<line x1="151.40" y1="377.00" x2="154.40" y2="377.00" stroke="#231f20" stroke-width="1"/>
<text x="147.80" y="380.00" font-size="8.3" text-anchor="end" fill="#231f20" stroke="#231f20" stroke-width="0.18" >15</text>
<line x1="160.60" y1="463.00" x2="160.60" y2="466.00" stroke="#231f20" stroke-width="1"/>
<text x="160.60" y="475.80" font-size="8.3" text-anchor="middle" fill="#231f20" stroke="#231f20" stroke-width="0.18" >0</text>
<line x1="177.75" y1="463.00" x2="177.75" y2="466.00" stroke="#231f20" stroke-width="1"/>
<text x="177.75" y="475.80" font-size="8.3" text-anchor="middle" fill="#231f20" stroke="#231f20" stroke-width="0.18" >5</text>
<line x1="194.90" y1="463.00" x2="194.90" y2="466.00" stroke="#231f20" stroke-width="1"/>
<text x="194.90" y="475.80" font-size="8.3" text-anchor="middle" fill="#231f20" stroke="#231f20" stroke-width="0.18" >10</text>
<line x1="212.05" y1="463.00" x2="212.05" y2="466.00" stroke="#231f20" stroke-width="1"/>
<text x="212.05" y="475.80" font-size="8.3" text-anchor="middle" fill="#231f20" stroke="#231f20" stroke-width="0.18" >15</text>
<line x1="229.20" y1="463.00" x2="229.20" y2="466.00" stroke="#231f20" stroke-width="1"/>
<text x="229.20" y="475.80" font-size="8.3" text-anchor="middle" fill="#231f20" stroke="#231f20" stroke-width="0.18" >20</text>
<line x1="246.35" y1="463.00" x2="246.35" y2="466.00" stroke="#231f20" stroke-width="1"/>
<text x="246.35" y="475.80" font-size="8.3" text-anchor="middle" fill="#231f20" stroke="#231f20" stroke-width="0.18" >25</text>
<text x="135.20" y="475.80" font-size="8.6" text-anchor="start" fill="#231f20" stroke="#231f20" stroke-width="0.18" textLength="17.4" lengthAdjust="spacingAndGlyphs">Days</text>
<text transform="translate(131.60,438.70) rotate(-90)" font-size="9.4" fill="#231f20" stroke="#231f20" stroke-width="0.18" textLength="42" lengthAdjust="spacingAndGlyphs">Cells (×10<tspan dy="-3.2" font-size="6">7</tspan><tspan dy="3.2">)</tspan></text>
<polyline points="160.60,454.40 184.61,454.40 208.62,453.37 232.63,451.82" fill="none" stroke="#32954a" stroke-width="1.3"/>
<rect x="157.80" y="451.80" width="5.6" height="5.2" fill="#35a84a"/>
<rect x="181.81" y="451.80" width="5.6" height="5.2" fill="#35a84a"/>
<rect x="205.82" y="450.77" width="5.6" height="5.2" fill="#35a84a"/>
<rect x="229.83" y="449.22" width="5.6" height="5.2" fill="#35a84a"/>
<line x1="158.75" y1="383.30" x2="171.75" y2="383.30" stroke="#3c7a48" stroke-width="1.1"/>
<rect x="162.45" y="380.70" width="5.6" height="5.2" fill="#35a84a"/>
<text x="175.10" y="385.70" font-size="8.0" text-anchor="start" fill="#231f20" stroke="#231f20" stroke-width="0.18" textLength="39.3" lengthAdjust="spacingAndGlyphs">Thymocytes</text>
<path d="M289.75,372.65 V463.00 H385.75" fill="none" stroke="#231f20" stroke-width="1.3"/>
<line x1="286.75" y1="454.40" x2="289.75" y2="454.40" stroke="#231f20" stroke-width="1"/>
<text x="283.15" y="457.40" font-size="8.3" text-anchor="end" fill="#231f20" stroke="#231f20" stroke-width="0.18" >0</text>
<line x1="286.75" y1="428.60" x2="289.75" y2="428.60" stroke="#231f20" stroke-width="1"/>
<text x="283.15" y="431.60" font-size="8.3" text-anchor="end" fill="#231f20" stroke="#231f20" stroke-width="0.18" >2</text>
<line x1="286.75" y1="402.80" x2="289.75" y2="402.80" stroke="#231f20" stroke-width="1"/>
<text x="283.15" y="405.80" font-size="8.3" text-anchor="end" fill="#231f20" stroke="#231f20" stroke-width="0.18" >4</text>
<line x1="286.75" y1="377.00" x2="289.75" y2="377.00" stroke="#231f20" stroke-width="1"/>
<text x="283.15" y="380.00" font-size="8.3" text-anchor="end" fill="#231f20" stroke="#231f20" stroke-width="0.18" >6</text>
<line x1="295.95" y1="463.00" x2="295.95" y2="466.00" stroke="#231f20" stroke-width="1"/>
<text x="295.95" y="475.80" font-size="8.3" text-anchor="middle" fill="#231f20" stroke="#231f20" stroke-width="0.18" >0</text>
<line x1="313.10" y1="463.00" x2="313.10" y2="466.00" stroke="#231f20" stroke-width="1"/>
<text x="313.10" y="475.80" font-size="8.3" text-anchor="middle" fill="#231f20" stroke="#231f20" stroke-width="0.18" >5</text>
<line x1="330.25" y1="463.00" x2="330.25" y2="466.00" stroke="#231f20" stroke-width="1"/>
<text x="330.25" y="475.80" font-size="8.3" text-anchor="middle" fill="#231f20" stroke="#231f20" stroke-width="0.18" >10</text>
<line x1="347.40" y1="463.00" x2="347.40" y2="466.00" stroke="#231f20" stroke-width="1"/>
<text x="347.40" y="475.80" font-size="8.3" text-anchor="middle" fill="#231f20" stroke="#231f20" stroke-width="0.18" >15</text>
<line x1="364.55" y1="463.00" x2="364.55" y2="466.00" stroke="#231f20" stroke-width="1"/>
<text x="364.55" y="475.80" font-size="8.3" text-anchor="middle" fill="#231f20" stroke="#231f20" stroke-width="0.18" >20</text>
<line x1="381.70" y1="463.00" x2="381.70" y2="466.00" stroke="#231f20" stroke-width="1"/>
<text x="381.70" y="475.80" font-size="8.3" text-anchor="middle" fill="#231f20" stroke="#231f20" stroke-width="0.18" >25</text>
<text transform="translate(270.10,438.70) rotate(-90)" font-size="9.4" fill="#231f20" stroke="#231f20" stroke-width="0.18" textLength="42" lengthAdjust="spacingAndGlyphs">Cells (×10<tspan dy="-3.2" font-size="6">6</tspan><tspan dy="3.2">)</tspan></text>
<polyline points="295.95,453.37 319.96,450.01 343.97,445.76 367.98,443.82" fill="none" stroke="#b9173e" stroke-width="1.3"/>
<path d="M319.96,445.11 V454.92 M317.66,445.11 H322.26 M317.66,454.92 H322.26" stroke="#231f20" stroke-width="1" fill="none"/>
<polygon points="295.95,449.97 298.95,455.57 292.95,455.57" fill="#c8163e"/>
<polygon points="319.96,446.61 322.96,452.21 316.96,452.21" fill="#c8163e"/>
<polygon points="343.97,442.36 346.97,447.96 340.97,447.96" fill="#c8163e"/>
<polygon points="367.98,440.42 370.98,446.02 364.98,446.02" fill="#c8163e"/>
<polyline points="295.95,453.37 319.96,451.43 343.97,448.72 367.98,448.08" fill="none" stroke="#1d4266" stroke-width="1.3"/>
<circle cx="295.95" cy="453.37" r="2.9" fill="#1f4a72"/>
<circle cx="319.96" cy="451.43" r="2.9" fill="#1f4a72"/>
<circle cx="343.97" cy="448.72" r="2.9" fill="#1f4a72"/>
<circle cx="367.98" cy="448.08" r="2.9" fill="#1f4a72"/>
<line x1="292.15" y1="383.40" x2="305.15" y2="383.40" stroke="#c8163e" stroke-width="1.1"/>
<polygon points="298.65,380.00 301.65,385.60 295.65,385.60" fill="#c8163e"/>
<line x1="292.15" y1="395.20" x2="305.15" y2="395.20" stroke="#1f4a72" stroke-width="1.1"/>
<circle cx="298.65" cy="395.20" r="2.9" fill="#1f4a72"/>
<text x="309.85" y="385.80" font-size="8.0" text-anchor="start" fill="#231f20" stroke="#231f20" stroke-width="0.18" textLength="46.2" lengthAdjust="spacingAndGlyphs">Splenic B cells</text>
<text x="309.85" y="397.70" font-size="8.0" text-anchor="start" fill="#231f20" stroke="#231f20" stroke-width="0.18" textLength="33.7" lengthAdjust="spacingAndGlyphs">BM B cells</text>
<path d="M424.20,372.65 V463.00 H520.20" fill="none" stroke="#231f20" stroke-width="1.3"/>
<line x1="421.20" y1="454.40" x2="424.20" y2="454.40" stroke="#231f20" stroke-width="1"/>
<text x="417.60" y="457.40" font-size="8.3" text-anchor="end" fill="#231f20" stroke="#231f20" stroke-width="0.18" >0</text>
<line x1="421.20" y1="415.70" x2="424.20" y2="415.70" stroke="#231f20" stroke-width="1"/>
<text x="417.60" y="418.70" font-size="8.3" text-anchor="end" fill="#231f20" stroke="#231f20" stroke-width="0.18" >1</text>
<line x1="421.20" y1="377.00" x2="424.20" y2="377.00" stroke="#231f20" stroke-width="1"/>
<text x="417.60" y="380.00" font-size="8.3" text-anchor="end" fill="#231f20" stroke="#231f20" stroke-width="0.18" >2</text>
<line x1="430.40" y1="463.00" x2="430.40" y2="466.00" stroke="#231f20" stroke-width="1"/>
<text x="430.40" y="475.80" font-size="8.3" text-anchor="middle" fill="#231f20" stroke="#231f20" stroke-width="0.18" >0</text>
<line x1="447.55" y1="463.00" x2="447.55" y2="466.00" stroke="#231f20" stroke-width="1"/>
<text x="447.55" y="475.80" font-size="8.3" text-anchor="middle" fill="#231f20" stroke="#231f20" stroke-width="0.18" >5</text>
<line x1="464.70" y1="463.00" x2="464.70" y2="466.00" stroke="#231f20" stroke-width="1"/>
<text x="464.70" y="475.80" font-size="8.3" text-anchor="middle" fill="#231f20" stroke="#231f20" stroke-width="0.18" >10</text>
<line x1="481.85" y1="463.00" x2="481.85" y2="466.00" stroke="#231f20" stroke-width="1"/>
<text x="481.85" y="475.80" font-size="8.3" text-anchor="middle" fill="#231f20" stroke="#231f20" stroke-width="0.18" >15</text>
<line x1="499.00" y1="463.00" x2="499.00" y2="466.00" stroke="#231f20" stroke-width="1"/>
<text x="499.00" y="475.80" font-size="8.3" text-anchor="middle" fill="#231f20" stroke="#231f20" stroke-width="0.18" >20</text>
<line x1="516.15" y1="463.00" x2="516.15" y2="466.00" stroke="#231f20" stroke-width="1"/>
<text x="516.15" y="475.80" font-size="8.3" text-anchor="middle" fill="#231f20" stroke="#231f20" stroke-width="0.18" >25</text>
<text transform="translate(405.10,438.70) rotate(-90)" font-size="9.4" fill="#231f20" stroke="#231f20" stroke-width="0.18" textLength="42" lengthAdjust="spacingAndGlyphs">Cells (×10<tspan dy="-3.2" font-size="6">6</tspan><tspan dy="3.2">)</tspan></text>
<polyline points="430.40,445.89 454.41,444.34 478.42,443.18 505.86,437.76" fill="none" stroke="#1d4266" stroke-width="1.3"/>
<path d="M430.40,440.08 V451.69 M428.10,440.08 H432.70 M428.10,451.69 H432.70" stroke="#231f20" stroke-width="1" fill="none"/>
<circle cx="430.40" cy="445.89" r="2.9" fill="#1f4a72"/>
<circle cx="454.41" cy="444.34" r="2.9" fill="#1f4a72"/>
<circle cx="478.42" cy="443.18" r="2.9" fill="#1f4a72"/>
<circle cx="505.86" cy="437.76" r="2.9" fill="#1f4a72"/>
<polyline points="430.40,451.69 454.41,444.34 478.42,448.98 505.86,441.24" fill="none" stroke="#b9173e" stroke-width="1.3"/>
<path d="M478.42,444.34 V453.63 M476.12,444.34 H480.72 M476.12,453.63 H480.72" stroke="#231f20" stroke-width="1" fill="none"/>
<polygon points="430.40,448.29 433.40,453.89 427.40,453.89" fill="#c8163e"/>
<polygon points="454.41,440.94 457.41,446.54 451.41,446.54" fill="#c8163e"/>
<polygon points="478.42,445.58 481.42,451.18 475.42,451.18" fill="#c8163e"/>
<polygon points="505.86,437.84 508.86,443.44 502.86,443.44" fill="#c8163e"/>
<line x1="426.60" y1="383.40" x2="439.60" y2="383.40" stroke="#c8163e" stroke-width="1.1"/>
<polygon points="433.10,380.00 436.10,385.60 430.10,385.60" fill="#c8163e"/>
<line x1="426.60" y1="395.20" x2="439.60" y2="395.20" stroke="#1f4a72" stroke-width="1.1"/>
<circle cx="433.10" cy="395.20" r="2.9" fill="#1f4a72"/>
<text x="444.30" y="385.80" font-size="8.0" text-anchor="start" fill="#231f20" stroke="#231f20" stroke-width="0.18" textLength="39.5" lengthAdjust="spacingAndGlyphs">Splenic DCs</text>
<text x="444.30" y="397.70" font-size="8.0" text-anchor="start" fill="#231f20" stroke="#231f20" stroke-width="0.18" textLength="27" lengthAdjust="spacingAndGlyphs">BM DCs</text>
<text x="259.4" y="511.25" font-size="9.7" text-anchor="middle" fill="#231f20" stroke="#231f20" stroke-width="0.12" textLength="437.7" lengthAdjust="spacing">Chimera 4: NK-susceptible DCs and NK-resistant hematopoietic cells and non-hematopoietic tissues</text>
<g>
<text x="15.10" y="568.05" font-size="7.1" text-anchor="middle" fill="#231f20" stroke="#231f20" stroke-width="0.18" >NK</text>
<ellipse cx="15.1" cy="585.25" rx="14.5" ry="13.9" fill="url(#nkring)"/>
<ellipse cx="13.0" cy="585.05" rx="10.3" ry="9.7" fill="url(#nkblue)"/>
<text x="5.60" y="588.55" font-size="8.0" fill="#16283f" stroke="#16283f" stroke-width="0.18" text-anchor="start">H2<tspan dy="-3" font-size="5.76">d</tspan></text>
<text x="51.90" y="523.85" font-size="8.0" text-anchor="start" fill="#231f20" stroke="#231f20" stroke-width="0.18" textLength="61.8" lengthAdjust="spacingAndGlyphs">Hematopoietic cell</text>
<ellipse cx="82.65" cy="540.25" rx="14.4" ry="11.3" fill="#ababab"/>
<ellipse cx="82.3" cy="540.25" rx="10.2" ry="6.7" fill="#e8e8e8" filter="url(#blur1)"/>
<text x="76.30" y="543.25" font-size="7.8" fill="#231f20" stroke="#231f20" stroke-width="0.18" text-anchor="start">H2<tspan dy="-3" font-size="5.62">d</tspan></text>
<text x="77.50" y="561.25" font-size="8.6" text-anchor="start" fill="#231f20" stroke="#231f20" stroke-width="0.18" textLength="10.6" lengthAdjust="spacingAndGlyphs">DC</text>
<g transform="translate(0,502.35)" fill="url(#dcg)"><ellipse cx="95.0" cy="70.9" rx="11.2" ry="4.6" transform="rotate(-47 95.0 70.9)"/><ellipse cx="96.8" cy="85.6" rx="8.8" ry="2.9" transform="rotate(8 96.8 85.6)"/><path d="M83,85 C88,86 92,88 92.3,92 C92.5,96 91,100 89.7,103.6 C87.5,100 84.5,95 81.5,91 Z"/><ellipse cx="69.5" cy="87.3" rx="11" ry="3.9" transform="rotate(-17 69.5 87.3)"/><ellipse cx="72.8" cy="74.8" rx="10.5" ry="4.0" transform="rotate(31 72.8 74.8)"/><path d="M61.2,69 C60.7,65.5 63.8,64 67,64.6 C69.2,65 69.8,67 68.8,68.6 C70.3,69.5 70.8,71.2 69.3,72.8 C66,73.8 62.2,72.8 61.2,69 Z"/><path d="M78.9,61.0 C79.3,66 80,71 82,76 L77.2,77.5 C77.8,72 78.5,66 78.9,61.0 Z"/><path d="M80.5,87 C78,89.5 75,90.5 74.6,93.2 C74.3,96 77,97 79.3,96 C81.5,95 82.5,92.5 84,90 Z"/><circle cx="84.9" cy="83.3" r="8.6"/></g>
<circle cx="84.6" cy="585.55" r="5.8" fill="url(#dcc)" filter="url(#blur1)"/>
<text x="78.30" y="587.15" font-size="7.8" fill="#231f20" stroke="#231f20" stroke-width="0.18" text-anchor="start">H2<tspan dy="-3" font-size="5.62">b</tspan></text>
<text x="71.90" y="614.25" font-size="7.1" text-anchor="start" fill="#231f20" stroke="#231f20" stroke-width="0.18" textLength="22.9" lengthAdjust="spacingAndGlyphs">Tissues</text>
<path transform="translate(0,502.35)" d="M90.50,115.80 L94.00,125.00 L100.30,123.50 L97.10,128.80 L106.20,130.50 L99.60,135.00 L107.30,138.90 L96.10,141.40 L99.90,148.40 L92.60,144.90 L88.60,151.20 L83.10,145.30 L78.00,154.60 L74.60,144.40 L69.60,147.40 L68.50,140.50 L59.40,141.90 L67.00,135.50 L59.00,130.50 L66.75,128.10 L61.60,119.30 L73.70,124.90 L77.80,119.80 L83.30,124.70 Z" fill="url(#star)" stroke="#a9a9bf" stroke-width="0.7" stroke-linejoin="round"/>
<circle cx="82.5" cy="636.75" r="9.0" fill="url(#tblue)"/>
<text x="76.20" y="640.15" font-size="8.0" fill="#16283f" stroke="#16283f" stroke-width="0.18" text-anchor="start">H2<tspan dy="-3" font-size="5.76">d</tspan></text>
<line x1="34.80" y1="568.75" x2="45.44" y2="561.46" stroke="#231f20" stroke-width="1.1"/>
<polygon points="49.40,558.75 46.80,563.44 44.08,559.48" fill="#231f20"/>
<line x1="44.80" y1="552.45" x2="53.90" y2="564.45" stroke="#231f20" stroke-width="1.1"/>
<line x1="32.50" y1="585.55" x2="51.70" y2="585.55" stroke="#231f20" stroke-width="1.1"/>
<polygon points="56.50,585.55 51.70,587.95 51.70,583.15" fill="#231f20"/>
<line x1="35.10" y1="602.95" x2="44.58" y2="611.20" stroke="#231f20" stroke-width="1.1"/>
<polygon points="48.20,614.35 43.00,613.01 46.15,609.39" fill="#231f20"/>
<line x1="44.25" y1="620.55" x2="53.90" y2="609.15" stroke="#231f20" stroke-width="1.1"/>
</g>
<path d="M154.40,540.10 V630.45 H250.40" fill="none" stroke="#231f20" stroke-width="1.3"/>
<line x1="151.40" y1="621.85" x2="154.40" y2="621.85" stroke="#231f20" stroke-width="1"/>
<text x="147.80" y="624.85" font-size="8.3" text-anchor="end" fill="#231f20" stroke="#231f20" stroke-width="0.18" >0</text>
<line x1="151.40" y1="596.05" x2="154.40" y2="596.05" stroke="#231f20" stroke-width="1"/>
<text x="147.80" y="599.05" font-size="8.3" text-anchor="end" fill="#231f20" stroke="#231f20" stroke-width="0.18" >5</text>
<line x1="151.40" y1="570.25" x2="154.40" y2="570.25" stroke="#231f20" stroke-width="1"/>
<text x="147.80" y="573.25" font-size="8.3" text-anchor="end" fill="#231f20" stroke="#231f20" stroke-width="0.18" >10</text>
<line x1="151.40" y1="544.45" x2="154.40" y2="544.45" stroke="#231f20" stroke-width="1"/>
<text x="147.80" y="547.45" font-size="8.3" text-anchor="end" fill="#231f20" stroke="#231f20" stroke-width="0.18" >15</text>
<line x1="160.60" y1="630.45" x2="160.60" y2="633.45" stroke="#231f20" stroke-width="1"/>
<text x="160.60" y="643.25" font-size="8.3" text-anchor="middle" fill="#231f20" stroke="#231f20" stroke-width="0.18" >0</text>
<line x1="177.75" y1="630.45" x2="177.75" y2="633.45" stroke="#231f20" stroke-width="1"/>
<text x="177.75" y="643.25" font-size="8.3" text-anchor="middle" fill="#231f20" stroke="#231f20" stroke-width="0.18" >5</text>
<line x1="194.90" y1="630.45" x2="194.90" y2="633.45" stroke="#231f20" stroke-width="1"/>
<text x="194.90" y="643.25" font-size="8.3" text-anchor="middle" fill="#231f20" stroke="#231f20" stroke-width="0.18" >10</text>
<line x1="212.05" y1="630.45" x2="212.05" y2="633.45" stroke="#231f20" stroke-width="1"/>
<text x="212.05" y="643.25" font-size="8.3" text-anchor="middle" fill="#231f20" stroke="#231f20" stroke-width="0.18" >15</text>
<line x1="229.20" y1="630.45" x2="229.20" y2="633.45" stroke="#231f20" stroke-width="1"/>
<text x="229.20" y="643.25" font-size="8.3" text-anchor="middle" fill="#231f20" stroke="#231f20" stroke-width="0.18" >20</text>
<line x1="246.35" y1="630.45" x2="246.35" y2="633.45" stroke="#231f20" stroke-width="1"/>
<text x="246.35" y="643.25" font-size="8.3" text-anchor="middle" fill="#231f20" stroke="#231f20" stroke-width="0.18" >25</text>
<text x="135.20" y="643.25" font-size="8.6" text-anchor="start" fill="#231f20" stroke="#231f20" stroke-width="0.18" textLength="17.4" lengthAdjust="spacingAndGlyphs">Days</text>
<text transform="translate(131.60,606.15) rotate(-90)" font-size="9.4" fill="#231f20" stroke="#231f20" stroke-width="0.18" textLength="42" lengthAdjust="spacingAndGlyphs">Cells (×10<tspan dy="-3.2" font-size="6">7</tspan><tspan dy="3.2">)</tspan></text>
<polyline points="160.60,621.85 184.61,597.60 208.62,577.47 232.63,570.25" fill="none" stroke="#32954a" stroke-width="1.3"/>
<path d="M232.63,564.83 V575.67 M230.33,564.83 H234.93 M230.33,575.67 H234.93" stroke="#231f20" stroke-width="1" fill="none"/>
<rect x="157.80" y="619.25" width="5.6" height="5.2" fill="#35a84a"/>
<rect x="181.81" y="595.00" width="5.6" height="5.2" fill="#35a84a"/>
<rect x="205.82" y="574.87" width="5.6" height="5.2" fill="#35a84a"/>
<rect x="229.83" y="567.65" width="5.6" height="5.2" fill="#35a84a"/>
<line x1="158.75" y1="550.75" x2="171.75" y2="550.75" stroke="#3c7a48" stroke-width="1.1"/>
<rect x="162.45" y="548.15" width="5.6" height="5.2" fill="#35a84a"/>
<text x="175.10" y="553.15" font-size="8.0" text-anchor="start" fill="#231f20" stroke="#231f20" stroke-width="0.18" textLength="39.3" lengthAdjust="spacingAndGlyphs">Thymocytes</text>
<path d="M289.75,540.10 V630.45 H385.75" fill="none" stroke="#231f20" stroke-width="1.3"/>
<line x1="286.75" y1="621.85" x2="289.75" y2="621.85" stroke="#231f20" stroke-width="1"/>
<text x="283.15" y="624.85" font-size="8.3" text-anchor="end" fill="#231f20" stroke="#231f20" stroke-width="0.18" >0</text>
<line x1="286.75" y1="596.05" x2="289.75" y2="596.05" stroke="#231f20" stroke-width="1"/>
<text x="283.15" y="599.05" font-size="8.3" text-anchor="end" fill="#231f20" stroke="#231f20" stroke-width="0.18" >2</text>
<line x1="286.75" y1="570.25" x2="289.75" y2="570.25" stroke="#231f20" stroke-width="1"/>
<text x="283.15" y="573.25" font-size="8.3" text-anchor="end" fill="#231f20" stroke="#231f20" stroke-width="0.18" >4</text>
<line x1="286.75" y1="544.45" x2="289.75" y2="544.45" stroke="#231f20" stroke-width="1"/>
<text x="283.15" y="547.45" font-size="8.3" text-anchor="end" fill="#231f20" stroke="#231f20" stroke-width="0.18" >6</text>
<line x1="295.95" y1="630.45" x2="295.95" y2="633.45" stroke="#231f20" stroke-width="1"/>
<text x="295.95" y="643.25" font-size="8.3" text-anchor="middle" fill="#231f20" stroke="#231f20" stroke-width="0.18" >0</text>
<line x1="313.10" y1="630.45" x2="313.10" y2="633.45" stroke="#231f20" stroke-width="1"/>
<text x="313.10" y="643.25" font-size="8.3" text-anchor="middle" fill="#231f20" stroke="#231f20" stroke-width="0.18" >5</text>
<line x1="330.25" y1="630.45" x2="330.25" y2="633.45" stroke="#231f20" stroke-width="1"/>
<text x="330.25" y="643.25" font-size="8.3" text-anchor="middle" fill="#231f20" stroke="#231f20" stroke-width="0.18" >10</text>
<line x1="347.40" y1="630.45" x2="347.40" y2="633.45" stroke="#231f20" stroke-width="1"/>
<text x="347.40" y="643.25" font-size="8.3" text-anchor="middle" fill="#231f20" stroke="#231f20" stroke-width="0.18" >15</text>
<line x1="364.55" y1="630.45" x2="364.55" y2="633.45" stroke="#231f20" stroke-width="1"/>
<text x="364.55" y="643.25" font-size="8.3" text-anchor="middle" fill="#231f20" stroke="#231f20" stroke-width="0.18" >20</text>
<line x1="381.70" y1="630.45" x2="381.70" y2="633.45" stroke="#231f20" stroke-width="1"/>
<text x="381.70" y="643.25" font-size="8.3" text-anchor="middle" fill="#231f20" stroke="#231f20" stroke-width="0.18" >25</text>
<text transform="translate(270.10,606.15) rotate(-90)" font-size="9.4" fill="#231f20" stroke="#231f20" stroke-width="0.18" textLength="42" lengthAdjust="spacingAndGlyphs">Cells (×10<tspan dy="-3.2" font-size="6">6</tspan><tspan dy="3.2">)</tspan></text>
<polyline points="295.95,621.85 319.96,606.63 343.97,595.40 367.98,555.54" fill="none" stroke="#b9173e" stroke-width="1.3"/>
<path d="M319.96,601.21 V612.05 M317.66,601.21 H322.26 M317.66,612.05 H322.26" stroke="#231f20" stroke-width="1" fill="none"/>
<path d="M343.97,589.60 V601.21 M341.67,589.60 H346.27 M341.67,601.21 H346.27" stroke="#231f20" stroke-width="1" fill="none"/>
<path d="M367.98,547.80 V563.28 M365.68,547.80 H370.28 M365.68,563.28 H370.28" stroke="#231f20" stroke-width="1" fill="none"/>
<polygon points="295.95,618.45 298.95,624.05 292.95,624.05" fill="#c8163e"/>
<polygon points="319.96,603.23 322.96,608.83 316.96,608.83" fill="#c8163e"/>
<polygon points="343.97,592.00 346.97,597.60 340.97,597.60" fill="#c8163e"/>
<polygon points="367.98,552.14 370.98,557.74 364.98,557.74" fill="#c8163e"/>
<polyline points="295.95,620.04 319.96,602.50 343.97,599.27 367.98,595.02" fill="none" stroke="#1d4266" stroke-width="1.3"/>
<path d="M367.98,587.79 V602.24 M365.68,587.79 H370.28 M365.68,602.24 H370.28" stroke="#231f20" stroke-width="1" fill="none"/>
<circle cx="295.95" cy="620.04" r="2.9" fill="#1f4a72"/>
<circle cx="319.96" cy="602.50" r="2.9" fill="#1f4a72"/>
<circle cx="343.97" cy="599.27" r="2.9" fill="#1f4a72"/>
<circle cx="367.98" cy="595.02" r="2.9" fill="#1f4a72"/>
<line x1="292.15" y1="550.85" x2="305.15" y2="550.85" stroke="#c8163e" stroke-width="1.1"/>
<polygon points="298.65,547.45 301.65,553.05 295.65,553.05" fill="#c8163e"/>
<line x1="292.15" y1="562.65" x2="305.15" y2="562.65" stroke="#1f4a72" stroke-width="1.1"/>
<circle cx="298.65" cy="562.65" r="2.9" fill="#1f4a72"/>
<text x="309.85" y="553.25" font-size="8.0" text-anchor="start" fill="#231f20" stroke="#231f20" stroke-width="0.18" textLength="46.2" lengthAdjust="spacingAndGlyphs">Splenic B cells</text>
<text x="309.85" y="565.15" font-size="8.0" text-anchor="start" fill="#231f20" stroke="#231f20" stroke-width="0.18" textLength="33.7" lengthAdjust="spacingAndGlyphs">BM B cells</text>
<path d="M424.20,540.10 V630.45 H520.20" fill="none" stroke="#231f20" stroke-width="1.3"/>
<line x1="421.20" y1="621.85" x2="424.20" y2="621.85" stroke="#231f20" stroke-width="1"/>
<text x="417.60" y="624.85" font-size="8.3" text-anchor="end" fill="#231f20" stroke="#231f20" stroke-width="0.18" >0</text>
<line x1="421.20" y1="583.15" x2="424.20" y2="583.15" stroke="#231f20" stroke-width="1"/>
<text x="417.60" y="586.15" font-size="8.3" text-anchor="end" fill="#231f20" stroke="#231f20" stroke-width="0.18" >1</text>
<line x1="421.20" y1="544.45" x2="424.20" y2="544.45" stroke="#231f20" stroke-width="1"/>
<text x="417.60" y="547.45" font-size="8.3" text-anchor="end" fill="#231f20" stroke="#231f20" stroke-width="0.18" >2</text>
<line x1="430.40" y1="630.45" x2="430.40" y2="633.45" stroke="#231f20" stroke-width="1"/>
<text x="430.40" y="643.25" font-size="8.3" text-anchor="middle" fill="#231f20" stroke="#231f20" stroke-width="0.18" >0</text>
<line x1="447.55" y1="630.45" x2="447.55" y2="633.45" stroke="#231f20" stroke-width="1"/>
<text x="447.55" y="643.25" font-size="8.3" text-anchor="middle" fill="#231f20" stroke="#231f20" stroke-width="0.18" >5</text>
<line x1="464.70" y1="630.45" x2="464.70" y2="633.45" stroke="#231f20" stroke-width="1"/>
<text x="464.70" y="643.25" font-size="8.3" text-anchor="middle" fill="#231f20" stroke="#231f20" stroke-width="0.18" >10</text>
<line x1="481.85" y1="630.45" x2="481.85" y2="633.45" stroke="#231f20" stroke-width="1"/>
<text x="481.85" y="643.25" font-size="8.3" text-anchor="middle" fill="#231f20" stroke="#231f20" stroke-width="0.18" >15</text>
<line x1="499.00" y1="630.45" x2="499.00" y2="633.45" stroke="#231f20" stroke-width="1"/>
<text x="499.00" y="643.25" font-size="8.3" text-anchor="middle" fill="#231f20" stroke="#231f20" stroke-width="0.18" >20</text>
<line x1="516.15" y1="630.45" x2="516.15" y2="633.45" stroke="#231f20" stroke-width="1"/>
<text x="516.15" y="643.25" font-size="8.3" text-anchor="middle" fill="#231f20" stroke="#231f20" stroke-width="0.18" >25</text>
<text transform="translate(405.10,606.15) rotate(-90)" font-size="9.4" fill="#231f20" stroke="#231f20" stroke-width="0.18" textLength="42" lengthAdjust="spacingAndGlyphs">Cells (×10<tspan dy="-3.2" font-size="6">6</tspan><tspan dy="3.2">)</tspan></text>
<polyline points="430.40,616.04 454.41,592.44 478.42,569.60 505.86,564.96" fill="none" stroke="#1d4266" stroke-width="1.3"/>
<path d="M454.41,585.86 V599.02 M452.11,585.86 H456.71 M452.11,599.02 H456.71" stroke="#231f20" stroke-width="1" fill="none"/>
<path d="M478.42,564.96 V574.25 M476.12,564.96 H480.72 M476.12,574.25 H480.72" stroke="#231f20" stroke-width="1" fill="none"/>
<path d="M505.86,554.51 V575.41 M503.56,554.51 H508.16 M503.56,575.41 H508.16" stroke="#231f20" stroke-width="1" fill="none"/>
<circle cx="430.40" cy="616.04" r="2.9" fill="#1f4a72"/>
<circle cx="454.41" cy="592.44" r="2.9" fill="#1f4a72"/>
<circle cx="478.42" cy="569.60" r="2.9" fill="#1f4a72"/>
<circle cx="505.86" cy="564.96" r="2.9" fill="#1f4a72"/>
<polyline points="430.40,619.14 454.41,596.69 478.42,576.18 505.86,562.64" fill="none" stroke="#b9173e" stroke-width="1.3"/>
<path d="M454.41,592.05 V601.34 M452.11,592.05 H456.71 M452.11,601.34 H456.71" stroke="#231f20" stroke-width="1" fill="none"/>
<path d="M505.86,554.90 V570.38 M503.56,554.90 H508.16 M503.56,570.38 H508.16" stroke="#231f20" stroke-width="1" fill="none"/>
<polygon points="430.40,615.74 433.40,621.34 427.40,621.34" fill="#c8163e"/>
<polygon points="454.41,593.29 457.41,598.89 451.41,598.89" fill="#c8163e"/>
<polygon points="478.42,572.78 481.42,578.38 475.42,578.38" fill="#c8163e"/>
<polygon points="505.86,559.24 508.86,564.84 502.86,564.84" fill="#c8163e"/>
<line x1="426.60" y1="550.85" x2="439.60" y2="550.85" stroke="#c8163e" stroke-width="1.1"/>
<polygon points="433.10,547.45 436.10,553.05 430.10,553.05" fill="#c8163e"/>
<line x1="426.60" y1="562.65" x2="439.60" y2="562.65" stroke="#1f4a72" stroke-width="1.1"/>
<circle cx="433.10" cy="562.65" r="2.9" fill="#1f4a72"/>
<text x="444.30" y="553.25" font-size="8.0" text-anchor="start" fill="#231f20" stroke="#231f20" stroke-width="0.18" textLength="39.5" lengthAdjust="spacingAndGlyphs">Splenic DCs</text>
<text x="444.30" y="565.15" font-size="8.0" text-anchor="start" fill="#231f20" stroke="#231f20" stroke-width="0.18" textLength="27" lengthAdjust="spacingAndGlyphs">BM DCs</text>
</svg></body></html>
